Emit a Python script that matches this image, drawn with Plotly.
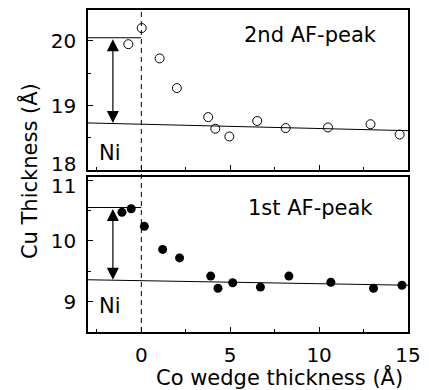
import plotly.graph_objects as go

# ---- data ----
x_top = [-0.73, 0.02, 1.03, 2.0, 3.76, 4.16, 4.95, 6.52, 8.12, 10.5, 12.89, 14.53]
y_top = [19.95, 20.2, 19.73, 19.27, 18.82, 18.64, 18.52, 18.76, 18.65, 18.66, 18.71, 18.55]

x_bot = [-1.09, -0.57, 0.17, 1.2, 2.15, 3.9, 4.31, 5.14, 6.7, 8.3, 10.66, 13.06, 14.66]
y_bot = [10.47, 10.53, 10.24, 9.86, 9.72, 9.42, 9.22, 9.31, 9.24, 9.42, 9.32, 9.22, 9.27]

fit_x = [-3, 15]
fit_top = [18.73, 18.61]
fit_bot = [9.36, 9.27]

level_x = [-3, 0]
level_top = 20.05
level_bot = 10.55
arrow_x = -1.6

x_ticks = [0, 5, 10, 15]
y_top_ticks = [18, 19, 20]
y_bot_ticks = [9, 10, 11]

FONT = "DejaVu Sans"
BLACK = "black"

fig = go.Figure()

# top panel (x2, y2)
fig.add_trace(go.Scatter(x=fit_x, y=fit_top, mode="lines", line=dict(color=BLACK, width=1),
                         xaxis="x2", yaxis="y2", showlegend=False, hoverinfo="skip"))
fig.add_trace(go.Scatter(x=level_x, y=[level_top, level_top], mode="lines", line=dict(color=BLACK, width=1),
                         xaxis="x2", yaxis="y2", showlegend=False, hoverinfo="skip"))
fig.add_trace(go.Scatter(x=x_top, y=y_top, mode="markers",
                         marker=dict(symbol="circle-open", size=9, color=BLACK, line=dict(width=1)),
                         xaxis="x2", yaxis="y2", showlegend=False))

# bottom panel (x, y)
fig.add_trace(go.Scatter(x=fit_x, y=fit_bot, mode="lines", line=dict(color=BLACK, width=1),
                         xaxis="x", yaxis="y", showlegend=False, hoverinfo="skip"))
fig.add_trace(go.Scatter(x=level_x, y=[level_bot, level_bot], mode="lines", line=dict(color=BLACK, width=1),
                         xaxis="x", yaxis="y", showlegend=False, hoverinfo="skip"))
fig.add_trace(go.Scatter(x=x_bot, y=y_bot, mode="markers",
                         marker=dict(symbol="circle", size=9, color=BLACK),
                         xaxis="x", yaxis="y", showlegend=False))

# dashed vertical line at x=0 across both panels
fig.add_shape(type="line", xref="x", yref="paper", x0=0, x1=0, y0=0, y1=1,
              line=dict(color=BLACK, width=1, dash="5px,4px"))

axis_common = dict(showline=True, linecolor=BLACK, linewidth=1.5, mirror=True,
                   ticks="inside", ticklen=5, tickcolor=BLACK, tickwidth=1,
                   showgrid=False, zeroline=False,
                   tickfont=dict(family=FONT, size=20, color=BLACK))

fig.update_layout(
    width=429, height=390,
    margin=dict(l=88, r=15, t=8, b=58),
    paper_bgcolor="white", plot_bgcolor="white",
    xaxis=dict(range=[-3, 15], domain=[0, 1], anchor="y", tickvals=x_ticks,
               minor=dict(dtick=2.5, tick0=0, ticks="inside", ticklen=3, tickcolor=BLACK),
               ticklabelstandoff=4, **axis_common),
    yaxis=dict(range=[8.5, 11.05], domain=[0, 0.481], anchor="x", tickvals=y_bot_ticks,
               ticktext=["9", "10", ""],
               minor=dict(dtick=0.5, tick0=0, ticks="inside", ticklen=3, tickcolor=BLACK),
               ticklabelstandoff=6, **axis_common),
    xaxis2=dict(range=[-3, 15], domain=[0, 1], anchor="y2", matches="x", tickvals=x_ticks,
                showticklabels=False,
                minor=dict(dtick=2.5, tick0=0, ticks="inside", ticklen=3, tickcolor=BLACK),
                **axis_common),
    yaxis2=dict(range=[18, 20.48], domain=[0.503, 1], anchor="x2", tickvals=y_top_ticks,
                ticktext=["", "19", "20"],
                minor=dict(dtick=0.5, tick0=0, ticks="inside", ticklen=3, tickcolor=BLACK),
                ticklabelstandoff=6, **axis_common),
)

ann_font = dict(family=FONT, size=21, color=BLACK)
tick_font = dict(family=FONT, size=20, color=BLACK)

# shifted edge tick labels (18 and 11)
fig.add_annotation(text="18", xref="paper", yref="y2", x=-0.03, y=18.1, xanchor="right",
                   yanchor="middle", showarrow=False, font=tick_font)
fig.add_annotation(text="11", xref="paper", yref="y", x=-0.03, y=10.9, xanchor="right",
                   yanchor="middle", showarrow=False, font=tick_font)

# panel labels
fig.add_annotation(text="2nd AF-peak", xref="x2", yref="y2", x=9.5, y=20.09, showarrow=False,
                   xanchor="center", yanchor="middle", font=ann_font)
fig.add_annotation(text="1st AF-peak", xref="x", yref="y", x=9.5, y=10.54, showarrow=False,
                   xanchor="center", yanchor="middle", font=ann_font)
fig.add_annotation(text="Ni", xref="x2", yref="y2", x=-1.77, y=18.26, showarrow=False,
                   xanchor="center", yanchor="middle", font=ann_font)
fig.add_annotation(text="Ni", xref="x", yref="y", x=-1.77, y=8.92, showarrow=False,
                   xanchor="center", yanchor="middle", font=ann_font)

# double-headed arrows
fig.add_annotation(x=arrow_x, y=fit_top[0], ax=arrow_x, ay=level_top, xref="x2", yref="y2",
                   axref="x2", ayref="y2", text="", showarrow=True, arrowhead=2, arrowside="end+start",
                   arrowsize=2, arrowwidth=1.2, arrowcolor=BLACK, standoff=0, startstandoff=0)
fig.add_annotation(x=arrow_x, y=fit_bot[0], ax=arrow_x, ay=level_bot, xref="x", yref="y",
                   axref="x", ayref="y", text="", showarrow=True, arrowhead=2, arrowside="end+start",
                   arrowsize=2, arrowwidth=1.2, arrowcolor=BLACK, standoff=0, startstandoff=0)

# axis titles
fig.add_annotation(text="Co wedge thickness (Å)", xref="paper", yref="paper", x=0.598, y=-0.139,
                   xanchor="center", yanchor="middle", showarrow=False, font=ann_font)
fig.add_annotation(text="Cu Thickness (Å)", xref="paper", yref="paper", x=-0.184, y=0.5,
                   xanchor="center", yanchor="middle", showarrow=False, textangle=-90, font=ann_font)

fig.write_html("out.html")
